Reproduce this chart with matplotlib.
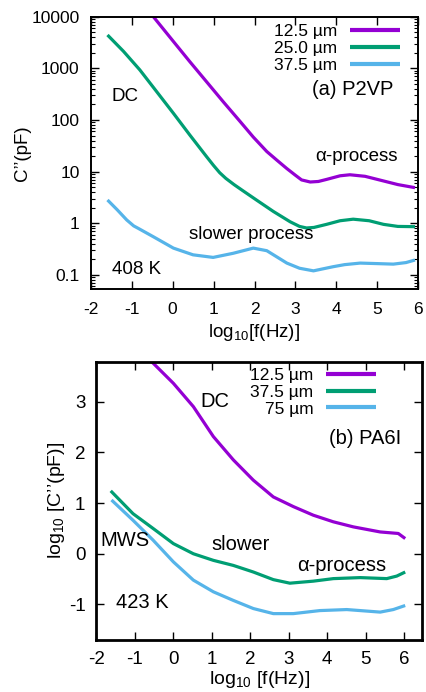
import numpy as np
import matplotlib
matplotlib.use("Agg")
import matplotlib.pyplot as plt
from matplotlib.ticker import FixedLocator, LogLocator, NullFormatter

plt.rcParams['font.family'] = ['Liberation Sans', 'DejaVu Sans']
plt.rcParams['mathtext.fontset'] = 'custom'
plt.rcParams['mathtext.rm'] = 'Liberation Sans'
plt.rcParams['axes.unicode_minus'] = False

# ---------------- Panel (a) P2VP, 408 K ----------------
a_labels = ["12.5 µm", "25.0 µm", "37.5 µm"]
a_x1 = [-1.6, -0.47, 0.02, 0.42, 0.83, 1.24, 1.65, 1.97, 2.30, 2.55, 2.79, 3.0, 3.15, 3.36, 3.56, 3.76, 4.09, 4.33, 4.7, 5.1, 5.5, 5.92]
a_log1 = [5.1, 4.0, 3.52, 3.13, 2.74, 2.35, 1.97, 1.67, 1.39, 1.22, 1.06, 0.93, 0.84, 0.80, 0.81, 0.85, 0.92, 0.94, 0.91, 0.83, 0.75, 0.69]
a_x2 = [-1.59, -1.2, -0.80, -0.39, 0.02, 0.42, 0.83, 1.0, 1.15, 1.3, 1.5, 1.7, 2.05, 2.46, 2.87, 3.1, 3.27, 3.45, 3.76, 4.09, 4.41, 4.8, 5.15, 5.5, 5.92]
a_log2 = [3.646, 3.33, 2.97, 2.55, 2.13, 1.71, 1.29, 1.12, 0.98, 0.87, 0.75, 0.64, 0.45, 0.23, 0.03, -0.06, -0.09, -0.08, -0.02, 0.05, 0.08, 0.05, -0.02, -0.06, -0.065]
a_x3 = [-1.59, -1.35, -1.12, -0.95, -0.84, -0.47, 0.02, 0.5, 0.99, 1.48, 1.97, 2.3, 2.79, 3.1, 3.44, 3.92, 4.2, 4.58, 5.0, 5.39, 5.7, 5.92]
a_log3 = [0.452, 0.26, 0.065, -0.05, -0.097, -0.26, -0.48, -0.61, -0.66, -0.58, -0.48, -0.53, -0.77, -0.87, -0.92, -0.84, -0.80, -0.77, -0.78, -0.79, -0.76, -0.71]

# ---------------- Panel (b) PA6I, 423 K ----------------
b_labels = ["12.5 µm", "37.5 µm", "75 µm"]
b_x1 = [-1.6, -0.57, 0.0, 0.52, 1.04, 1.56, 2.08, 2.6, 3.12, 3.64, 4.16, 4.68, 5.38, 5.85, 6.03]
b_v1 = [4.6, 3.79, 3.36, 2.9, 2.31, 1.85, 1.45, 1.12, 0.93, 0.76, 0.63, 0.53, 0.43, 0.40, 0.30]
b_x2 = [-1.63, -1.05, -0.53, 0.0, 0.52, 1.04, 1.56, 2.08, 2.6, 3.03, 3.64, 4.16, 4.86, 5.55, 5.81, 6.03]
b_v2 = [1.24, 0.79, 0.50, 0.20, 0.0, -0.13, -0.23, -0.36, -0.51, -0.58, -0.54, -0.49, -0.47, -0.49, -0.44, -0.36]
b_x3 = [-1.61, -1.05, -0.53, 0.0, 0.52, 1.04, 1.56, 2.08, 2.6, 3.12, 3.81, 4.51, 5.38, 5.72, 6.03]
b_v3 = [1.06, 0.66, 0.27, -0.16, -0.52, -0.75, -0.92, -1.08, -1.18, -1.18, -1.12, -1.10, -1.15, -1.10, -1.02]

colors = ["#9400D3", "#009E73", "#56B4E9"]
xticks = [-2, -1, 0, 1, 2, 3, 4, 5, 6]

W, H = 427, 692
fig = plt.figure(figsize=(W / 100, H / 100), dpi=100)

def px_axes(l, t, r, b):
    return fig.add_axes([l / W, 1 - b / H, (r - l) / W, (b - t) / H])

FS = 12.5
LW = 2.3

# ---- top panel
ax1 = px_axes(90.7, 16.7, 418.3, 289.3)
ax1.set_yscale('log')
for xs, ls, c, lab in zip([a_x1, a_x2, a_x3], [a_log1, a_log2, a_log3], colors, a_labels):
    ax1.plot(xs, 10 ** np.array(ls), color=c, lw=LW, label=lab, solid_capstyle='butt')
ax1.set_xlim(-2, 6)
ax1.set_ylim(0.0528, 10000)
ax1.xaxis.set_major_locator(FixedLocator(xticks))
ax1.set_yticks([0.1, 1, 10, 100, 1000, 10000])
ax1.set_yticklabels(["0.1", "1", "10", "100", "1000", "10000"])
ax1.yaxis.set_minor_locator(LogLocator(base=10, subs=np.arange(2, 10), numticks=20))
ax1.yaxis.set_minor_formatter(NullFormatter())
ax1.tick_params(which='both', direction='in', top=True, right=True, labelsize=FS)
ax1.tick_params(axis='x', pad=9)
ax1.tick_params(axis='y', pad=8)
ax1.tick_params(which='major', length=6, width=1)
ax1.tick_params(which='minor', length=3, width=0.8)
for s in ax1.spines.values():
    s.set_linewidth(1.4)
ax1.set_xlabel(r"log$_{10}$[f(Hz)]", fontsize=FS + 1, labelpad=4)
ax1.set_ylabel("C’’(pF)", fontsize=FS + 1, labelpad=0)
ax1.text(-1.48, 10 ** 2.45, "DC", fontsize=FS + 1, va='center', ha='left')
ax1.text(4.5, 10 ** 1.29, "α-process", fontsize=FS + 1, va='center', ha='center')
ax1.text(1.93, 10 ** -0.21, "slower process", fontsize=FS + 1, va='center', ha='center')
ax1.text(-1.49, 10 ** -0.89, "408 K", fontsize=FS + 1, va='center', ha='left')
ax1.text(5.39, 10 ** 2.6, "(a) P2VP", fontsize=FS + 2, va='center', ha='right')
leg1 = ax1.legend(loc='upper right', bbox_to_anchor=(0.944, 0.974), frameon=False,
           markerfirst=False, fontsize=FS, handlelength=2.9, handletextpad=0.7,
           labelspacing=0.1, borderpad=0, borderaxespad=0)
for l in leg1.get_lines():
    l.set_linewidth(3)

# ---- bottom panel
ax2 = px_axes(96.5, 361.5, 422.5, 640)
for xs, vs, c, lab in zip([b_x1, b_x2, b_x3], [b_v1, b_v2, b_v3], colors, b_labels):
    ax2.plot(xs, vs, color=c, lw=LW, label=lab, solid_capstyle='butt')
ax2.set_xlim(-2, 6.48)
ax2.set_ylim(-1.7, 3.79)
ax2.xaxis.set_major_locator(FixedLocator(xticks))
ax2.set_yticks([-1, 0, 1, 2, 3])
ax2.tick_params(which='both', direction='in', top=True, right=True, labelsize=FS + 1)
ax2.tick_params(axis='x', pad=8)
ax2.tick_params(axis='y', pad=8)
ax2.tick_params(which='major', length=6, width=1)
for s in ax2.spines.values():
    s.set_linewidth(2.0)
ax2.set_xlabel(r"log$_{10}$ [f(Hz)]", fontsize=FS + 1.5, labelpad=1)
ax2.set_ylabel(r"log$_{10}$ [C’’(pF)]", fontsize=FS + 1.5, labelpad=1)
ax2.text(1.08, 3.0, "DC", fontsize=FS + 2, va='center', ha='center')
ax2.text(5.94, 2.27, "(b) PA6I", fontsize=FS + 2, va='center', ha='right')
ax2.text(-1.91, 0.27, "MWS", fontsize=FS + 2, va='center', ha='left')
ax2.text(1.76, 0.19, "slower", fontsize=FS + 2, va='center', ha='center')
ax2.text(4.38, -0.23, "α-process", fontsize=FS + 2, va='center', ha='center')
ax2.text(-1.5, -0.97, "423 K", fontsize=FS + 2, va='center', ha='left')
leg2 = ax2.legend(loc='upper right', bbox_to_anchor=(0.857, 0.978), frameon=False,
           markerfirst=False, fontsize=FS, handlelength=2.9, handletextpad=0.7,
           labelspacing=0.1, borderpad=0, borderaxespad=0)
for l in leg2.get_lines():
    l.set_linewidth(3)

fig.savefig("out.png", dpi=100)
